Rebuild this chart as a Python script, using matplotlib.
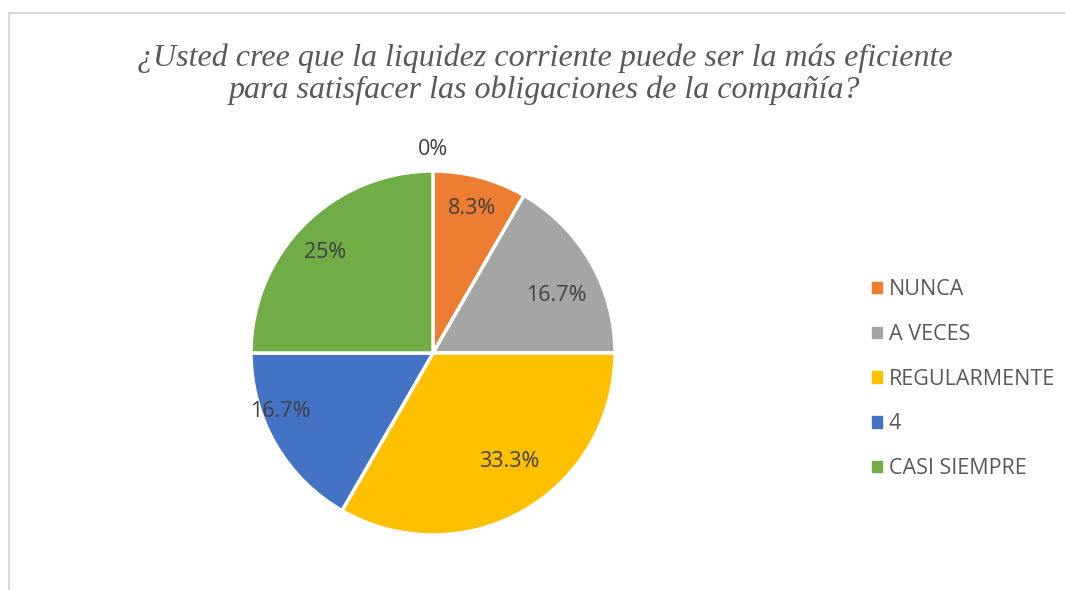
import matplotlib
matplotlib.use("Agg")
import numpy as np
import matplotlib.pyplot as plt
from matplotlib.lines import Line2D
from matplotlib.patches import Rectangle

# Data
categories = ["", "NUNCA", "A VECES", "REGULARMENTE", "4", "CASI SIEMPRE"]
counts = [0, 1, 2, 4, 2, 3]
colors = ["#5B9BD5", "#ED7D31", "#A5A5A5", "#FFC000", "#4472C4", "#70AD47"]
title = "¿Usted cree que la liquidez corriente puede ser la más eficiente\npara satisfacer las obligaciones de la compañía?"

# label placement (radial fraction, angular shift in degrees) mimicking Excel best fit
label_r = [1.12, 0.82, 0.75, 0.73, 0.90, 0.81]
label_shift = [0, 0, -5, 5, -9, 2]

W, H = 1065, 590
fig = plt.figure(figsize=(W / 100, H / 100), dpi=100)
fig.patch.set_facecolor("white")

# chart border (cut at right and bottom)
fig.add_artist(Line2D([9 / W, 1.0], [1 - 13 / H, 1 - 13 / H], color="#D9D9D9", lw=1.5))
fig.add_artist(Line2D([9 / W, 9 / W], [1 - 13 / H, 0], color="#D9D9D9", lw=1.5))

cx, cy, r = 433, 353, 182
ax = fig.add_axes([(cx - r) / W, (H - cy - r) / H, 2 * r / W, 2 * r / H])

def fmt(p):
    return f"{round(p, 1):g}%"

wedges, texts, autotexts = ax.pie(
    counts, colors=colors, startangle=90, counterclock=False,
    autopct=fmt, pctdistance=0.8,
    wedgeprops=dict(edgecolor="white", linewidth=2.5),
    textprops=dict(color="#404040", fontsize=15.5, family="Open Sans"),
)
for w, t, rr, sh in zip(wedges, autotexts, label_r, label_shift):
    ang = np.deg2rad((w.theta1 + w.theta2) / 2 + sh)
    t.set_position((rr * np.cos(ang), rr * np.sin(ang)))
ax.set_aspect("equal")
ax.set_xlim(-1, 1)
ax.set_ylim(-1, 1)
ax.axis("off")

fig.text(545 / W, 1 - 74 / H, title, ha="center", va="center",
         fontsize=23, style="italic", family="Liberation Serif",
         color="#595959", linespacing=1.12)

# legend (skip empty first category)
handles = [Rectangle((0, 0), 1, 1, color=c) for c in colors[1:]]
leg = fig.legend(handles, categories[1:], loc="upper left",
                 bbox_to_anchor=(853 / W, 1 - 260 / H), frameon=False,
                 handlelength=0.45, handleheight=0.45, handletextpad=0.32,
                 labelspacing=1.1,
                 prop=dict(family="Open Sans", size=15.5))
for t in leg.get_texts():
    t.set_color("#595959")

fig.savefig("out.png", dpi=100, facecolor="white")
